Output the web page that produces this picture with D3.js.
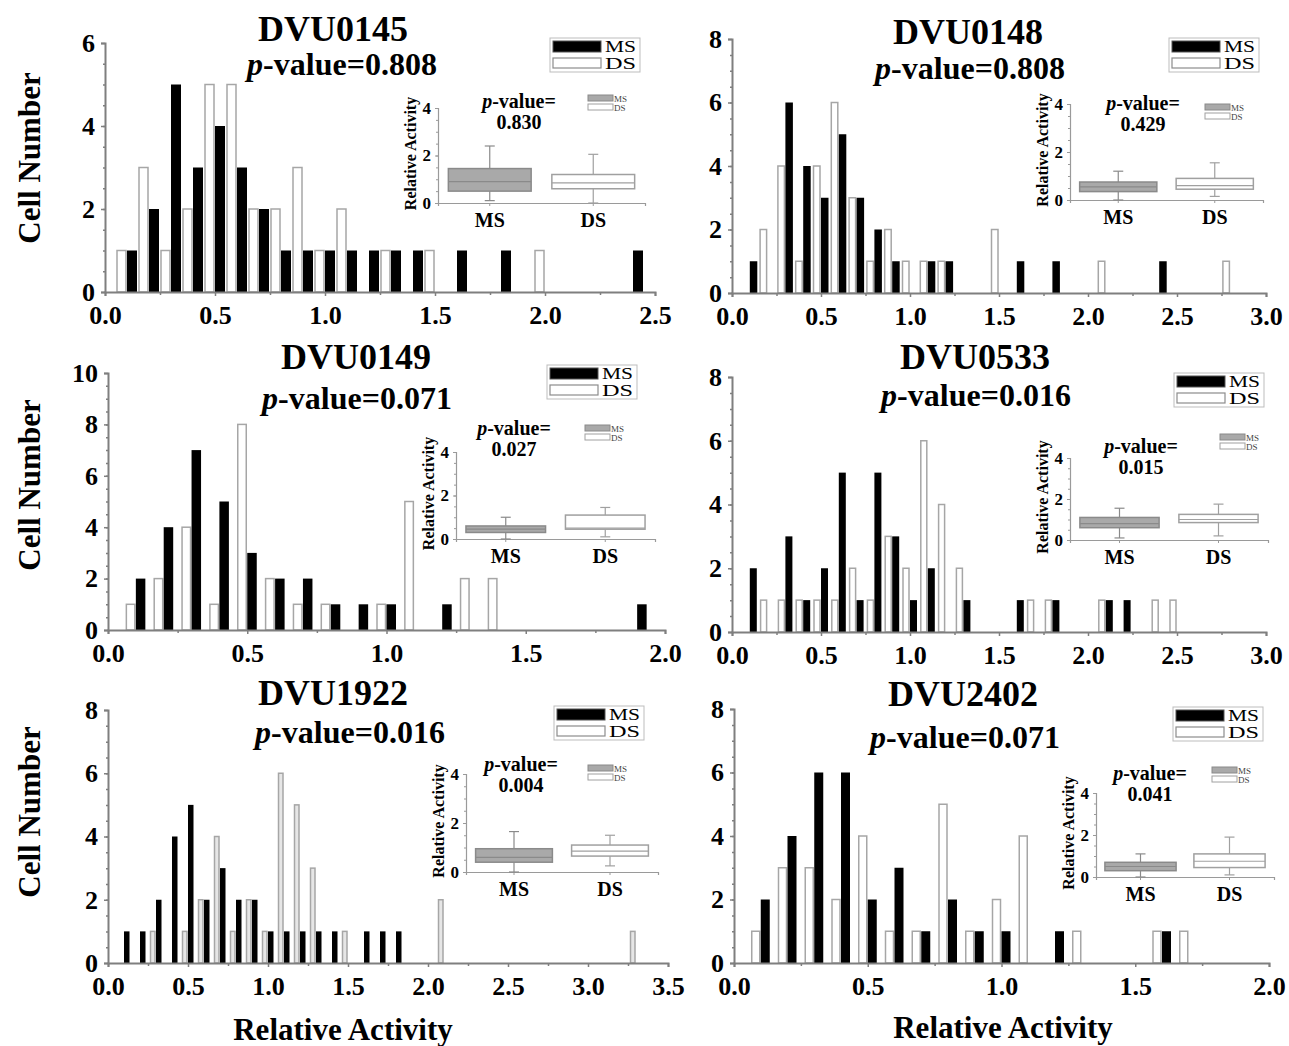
<!DOCTYPE html>
<html>
<head>
<meta charset="utf-8">
<script src="https://cdn.jsdelivr.net/npm/d3@7"></script>
<style>
  body { margin: 0; background: #fff; }
  svg { display: block; }
  text { font-family: "Liberation Serif", "Times New Roman", serif; }
</style>
</head>
<body>
<div id="chart"></div>
<script>
// ---- data ----
var genes = ["DVU0145", "DVU0148", "DVU0149", "DVU0533", "DVU1922", "DVU2402"];
var histPValues = ["0.808", "0.808", "0.071", "0.016", "0.016", "0.071"];
var boxPValues = ["0.830", "0.429", "0.027", "0.015", "0.004", "0.041"];
var xMaxes = [2.5, 3.0, 2.0, 3.0, 3.5, 2.0];
var yMaxes = [6, 8, 10, 8, 8, 8];
var groups = ["MS", "DS"];

// cell counts per bin, bins centred at 0.1, 0.2, 0.3 ...
var msCounts = [
  [1, 2, 5, 3, 4, 3, 2, 1, 1, 1, 1, 1, 1, 1, 0, 1, 0, 1, 0, 0, 0, 0, 0, 1],
  [1, 0, 6, 4, 3, 5, 3, 2, 1, 0, 1, 1, 0, 0, 0, 1, 0, 1, 0, 0, 0, 0, 0, 1],
  [2, 4, 7, 5, 3, 2, 2, 1, 1, 1, 0, 1, 0, 0, 0, 0, 0, 0, 1],
  [2, 0, 3, 1, 2, 5, 1, 5, 3, 1, 2, 0, 1, 0, 0, 1, 0, 1, 0, 0, 1, 1],
  [1, 1, 2, 4, 5, 2, 3, 2, 2, 1, 1, 1, 1, 1, 0, 1, 1, 1],
  [2, 4, 6, 6, 2, 3, 1, 2, 1, 1, 0, 1, 0, 0, 0, 1]
];
var dsCounts = [
  [1, 3, 1, 2, 5, 5, 2, 2, 3, 1, 2, 0, 1, 0, 1, 0, 0, 0, 0, 1],
  [0, 2, 4, 1, 4, 6, 3, 1, 2, 1, 1, 1, 0, 0, 2, 0, 0, 0, 0, 0, 1, 0, 0, 0, 0, 0, 0, 1],
  [1, 2, 4, 1, 8, 2, 1, 1, 0, 1, 5, 0, 2, 2],
  [0, 1, 1, 1, 1, 1, 2, 1, 3, 2, 6, 4, 2, 0, 0, 0, 1, 1, 0, 0, 1, 0, 0, 1, 1],
  [0, 0, 1, 0, 1, 2, 4, 1, 2, 1, 6, 5, 3, 0, 1, 0, 0, 0, 0, 0, 2, 0, 0, 0, 0, 0, 0, 0, 0, 0, 0, 0, 1],
  [1, 3, 3, 2, 4, 1, 1, 5, 1, 2, 4, 0, 1, 0, 0, 1, 1]
];

// inset box plots: [min, q1, median, q3, max]
var msBox = [
  [0.1, 0.5, 0.9, 1.45, 2.4],
  [0.0, 0.35, 0.55, 0.75, 1.2],
  [0.0, 0.3, 0.45, 0.6, 1.0],
  [0.1, 0.6, 0.8, 1.1, 1.55],
  [0.0, 0.4, 0.6, 0.95, 1.65],
  [0.0, 0.3, 0.5, 0.7, 1.1]
];
var dsBox = [
  [0.0, 0.6, 0.85, 1.2, 2.05],
  [0.15, 0.45, 0.6, 0.9, 1.55],
  [0.1, 0.45, 0.5, 1.1, 1.45],
  [0.2, 0.85, 1.0, 1.25, 1.75],
  [0.25, 0.65, 0.85, 1.1, 1.5],
  [0.1, 0.45, 0.75, 1.1, 1.9]
];

// ---- positions of the six panels (pixels) ----
var layout = [
  {x0: 105, x1: 655, y0: 292, yTop: 43, bw: 10, tx: 333, ty: 41, px: 342, py: 75, lg: [550, 38],
   ins: {ax: 438, ar: 645, y0: 203, y4: 108, px: 519, py: 108, lgx: 588, lgy: 95}},
  {x0: 732, x1: 1266, y0: 293, yTop: 39, bw: 7.5, tx: 968, ty: 44, px: 970, py: 79, lg: [1169, 38],
   ins: {ax: 1070, ar: 1263, y0: 200, y4: 104, px: 1143, py: 110, lgx: 1205, lgy: 104}},
  {x0: 108, x1: 665, y0: 630, yTop: 373, bw: 9.5, tx: 356, ty: 369, px: 357, py: 409, lg: [547, 365],
   ins: {ax: 456, ar: 655, y0: 539, y4: 452, px: 514, py: 435, lgx: 585, lgy: 425}},
  {x0: 732, x1: 1266, y0: 632, yTop: 377, bw: 7, tx: 975, ty: 369, px: 976, py: 406, lg: [1174, 373],
   ins: {ax: 1070, ar: 1268, y0: 540, y4: 458, px: 1141, py: 453, lgx: 1220, lgy: 434}},
  {x0: 108, x1: 668, y0: 963, yTop: 710, bw: 5.5, tx: 333, ty: 705, px: 350, py: 743, lg: [554, 706],
   ins: {ax: 466, ar: 658, y0: 872, y4: 774, px: 521, py: 771, lgx: 588, lgy: 765}},
  {x0: 734, x1: 1269, y0: 963, yTop: 709, bw: 9, tx: 963, ty: 706, px: 965, py: 748, lg: [1173, 707],
   ins: {ax: 1096, ar: 1274, y0: 877, y4: 793, px: 1150, py: 780, lgx: 1212, lgy: 767}}
];

var axisGray = '#7f7f7f';

var svg = d3.select('#chart')
    .append('svg')
    .attr('width', 1289)
    .attr('height', 1046);

// shared axis titles
[158, 485, 812].forEach(function (cy) {
    svg.append('text')
        .attr('transform', 'translate(40,' + cy + ') rotate(-90)')
        .attr('text-anchor', 'middle')
        .style('font-size', '31px')
        .style('font-weight', 'bold')
        .text('Cell Number');
});
[[343, 1040], [1003, 1038]].forEach(function (p) {
    svg.append('text')
        .attr('x', p[0]).attr('y', p[1])
        .attr('text-anchor', 'middle')
        .style('font-size', '31px')
        .style('font-weight', 'bold')
        .text('Relative Activity');
});

function pValueText(sel, value) {
    sel.append('tspan').style('font-style', 'italic').text('p');
    sel.append('tspan').text('-value=' + value);
}

genes.forEach(function (gene, i) {
    var L = layout[i];
    var g = svg.append('g').attr('class', 'panel');

    var x = d3.scaleLinear().domain([0, xMaxes[i]]).range([L.x0, L.x1]);
    var y = d3.scaleLinear().domain([0, yMaxes[i]]).range([L.y0, L.yTop]);

    // bars: DS to the left of the bin centre, MS to the right
    var bins = d3.range(Math.max(msCounts[i].length, dsCounts[i].length)).map(function (k) {
        return {c: +(0.1 * (k + 1)).toFixed(1), ms: msCounts[i][k] || 0, ds: dsCounts[i][k] || 0};
    });

    g.selectAll('.ds').data(bins.filter(function (d) { return d.ds > 0; }))
        .enter().append('rect')
        .attr('class', 'ds')
        .attr('x', function (d) { return x(d.c) - L.bw; })
        .attr('y', function (d) { return y(d.ds); })
        .attr('width', L.bw - 1)
        .attr('height', function (d) { return y(0) - y(d.ds); })
        .attr('fill', i === 4 ? '#e6e6e6' : '#fff')
        .attr('stroke', '#a6a6a6')
        .attr('stroke-width', 1.5);

    g.selectAll('.ms').data(bins.filter(function (d) { return d.ms > 0; }))
        .enter().append('rect')
        .attr('class', 'ms')
        .attr('x', function (d) { return x(d.c); })
        .attr('y', function (d) { return y(d.ms); })
        .attr('width', L.bw)
        .attr('height', function (d) { return y(0) - y(d.ms); })
        .attr('fill', '#000');

    // axes
    var xAxis = g.append('g')
        .attr('transform', 'translate(0,' + L.y0 + ')')
        .call(d3.axisBottom(x)
            .tickValues(d3.range(0, xMaxes[i] + 0.01, 0.5))
            .tickFormat(d3.format('.1f'))
            .tickSize(4).tickPadding(8));
    g.append('g')
        .attr('transform', 'translate(0,' + L.y0 + ')')
        .call(d3.axisBottom(x)
            .tickValues(d3.range(0.25, xMaxes[i], 0.5))
            .tickFormat('').tickSize(3))
        .select('.domain').remove();

    g.append('g')
        .attr('transform', 'translate(' + L.x0 + ',0)')
        .call(d3.axisLeft(y)
            .tickValues(d3.range(0, yMaxes[i] + 0.01, 2))
            .tickFormat(d3.format('d'))
            .tickSize(4).tickPadding(6));
    g.append('g')
        .attr('transform', 'translate(' + L.x0 + ',0)')
        .call(d3.axisLeft(y)
            .tickValues(d3.range(0.5, yMaxes[i], 0.5))
            .tickFormat('').tickSize(2))
        .select('.domain').remove();

    g.selectAll('.domain').attr('stroke', axisGray).attr('stroke-width', 2);
    g.selectAll('.tick line').attr('stroke', axisGray).attr('stroke-width', 1.5);
    g.selectAll('.tick text')
        .attr('fill', '#000')
        .style('font-size', '26px')
        .style('font-weight', 'bold')
        .style('font-family', '"Liberation Serif", serif');
    xAxis.selectAll('.tick text').attr('dy', '0.75em');

    // titles
    g.append('text')
        .attr('x', L.tx).attr('y', L.ty)
        .attr('text-anchor', 'middle')
        .style('font-size', '36px').style('font-weight', 'bold')
        .text(gene);
    g.append('text')
        .attr('x', L.px).attr('y', L.py)
        .attr('text-anchor', 'middle')
        .style('font-size', '32px').style('font-weight', 'bold')
        .call(pValueText, histPValues[i]);

    // main legend
    var lg = g.append('g').attr('transform', 'translate(' + L.lg[0] + ',' + L.lg[1] + ')');
    lg.append('rect').attr('width', 90).attr('height', 34)
        .attr('fill', '#fff').attr('stroke', '#bdbdbd').attr('stroke-width', 1);
    lg.append('rect').attr('x', 3).attr('y', 3).attr('width', 48).attr('height', 11)
        .attr('fill', '#000').attr('stroke', '#555');
    lg.append('rect').attr('x', 3).attr('y', 20).attr('width', 48).attr('height', 10)
        .attr('fill', '#fff').attr('stroke', '#8c8c8c').attr('stroke-width', 1.2);
    lg.selectAll('.lt').data(groups).enter().append('text')
        .attr('x', 55)
        .attr('y', function (d, k) { return 14 + k * 17; })
        .style('font-size', '17px')
        .attr('textLength', 31)
        .attr('lengthAdjust', 'spacingAndGlyphs')
        .text(function (d) { return d; });

    // inset box plot
    var I = L.ins;
    var ix = d3.scaleBand().domain(groups).range([I.ax, I.ar]).paddingInner(0.2).paddingOuter(0.1);
    var iy = d3.scaleLinear().domain([0, 4]).range([I.y0, I.y4]);
    var ig = g.append('g').attr('class', 'inset');

    ig.append('g')
        .attr('transform', 'translate(0,' + I.y0 + ')')
        .call(d3.axisBottom(ix).tickSize(3).tickPadding(6))
        .selectAll('.tick text')
        .style('font-size', '20px').style('font-weight', 'bold')
        .style('font-family', '"Liberation Serif", serif')
        .attr('dy', '0.75em');
    ig.append('g')
        .attr('transform', 'translate(' + I.ax + ',0)')
        .call(d3.axisLeft(iy).tickValues([0, 2, 4]).tickFormat(d3.format('d')).tickSize(3).tickPadding(4))
        .selectAll('.tick text')
        .style('font-size', '17px').style('font-weight', 'bold')
        .style('font-family', '"Liberation Serif", serif');
    ig.append('g')
        .attr('transform', 'translate(' + I.ax + ',0)')
        .call(d3.axisLeft(iy).tickValues(d3.range(0.5, 4, 0.5)).tickFormat('').tickSize(2))
        .select('.domain').remove();
    ig.selectAll('.domain').attr('stroke', '#9a9a9a').attr('stroke-width', 1.2);
    ig.selectAll('.tick line').attr('stroke', '#9a9a9a');
    ig.selectAll('.tick text').attr('fill', '#000');

    ig.append('text')
        .attr('transform', 'translate(' + (I.ax - 22) + ',' + ((I.y0 + I.y4) / 2 - 2) + ') rotate(-90)')
        .attr('text-anchor', 'middle')
        .style('font-size', '16px').style('font-weight', 'bold')
        .text('Relative Activity');

    var boxes = [
        {name: 'MS', s: msBox[i], fill: '#a9a9a9', stroke: '#8a8a8a'},
        {name: 'DS', s: dsBox[i], fill: '#fff', stroke: '#a0a0a0'}
    ];
    boxes.forEach(function (b) {
        var bx = ix(b.name), bwid = ix.bandwidth(), cx = bx + bwid / 2;
        var bg = ig.append('g');
        bg.append('line').attr('x1', cx).attr('x2', cx)
            .attr('y1', iy(b.s[0])).attr('y2', iy(b.s[4]))
            .attr('stroke', b.stroke).attr('stroke-width', 1.2);
        [b.s[0], b.s[4]].forEach(function (v) {
            bg.append('line').attr('x1', cx - 5).attr('x2', cx + 5)
                .attr('y1', iy(v)).attr('y2', iy(v))
                .attr('stroke', b.stroke).attr('stroke-width', 1.2);
        });
        bg.append('rect').attr('x', bx).attr('width', bwid)
            .attr('y', iy(b.s[3])).attr('height', iy(b.s[1]) - iy(b.s[3]))
            .attr('fill', b.fill).attr('stroke', b.stroke).attr('stroke-width', 1.5);
        bg.append('line').attr('x1', bx).attr('x2', bx + bwid)
            .attr('y1', iy(b.s[2])).attr('y2', iy(b.s[2]))
            .attr('stroke', b.stroke).attr('stroke-width', 1.2);
    });

    var pt = ig.append('text')
        .attr('x', I.px).attr('y', I.py)
        .attr('text-anchor', 'middle')
        .style('font-size', '20px').style('font-weight', 'bold');
    pValueText(pt, '');
    ig.append('text')
        .attr('x', I.px).attr('y', I.py + 21)
        .attr('text-anchor', 'middle')
        .style('font-size', '20px').style('font-weight', 'bold')
        .text(boxPValues[i]);

    // inset legend
    var il = ig.append('g').attr('transform', 'translate(' + I.lgx + ',' + I.lgy + ')');
    il.append('rect').attr('width', 25).attr('height', 6)
        .attr('fill', '#a9a9a9').attr('stroke', '#8a8a8a');
    il.append('rect').attr('y', 9).attr('width', 25).attr('height', 6)
        .attr('fill', '#fff').attr('stroke', '#a0a0a0');
    il.selectAll('.ilt').data(groups).enter().append('text')
        .attr('x', 26)
        .attr('y', function (d, k) { return 7 + k * 9; })
        .style('font-size', '9px')
        .attr('fill', '#444')
        .text(function (d) { return d; });
});
</script>
</body>
</html>
